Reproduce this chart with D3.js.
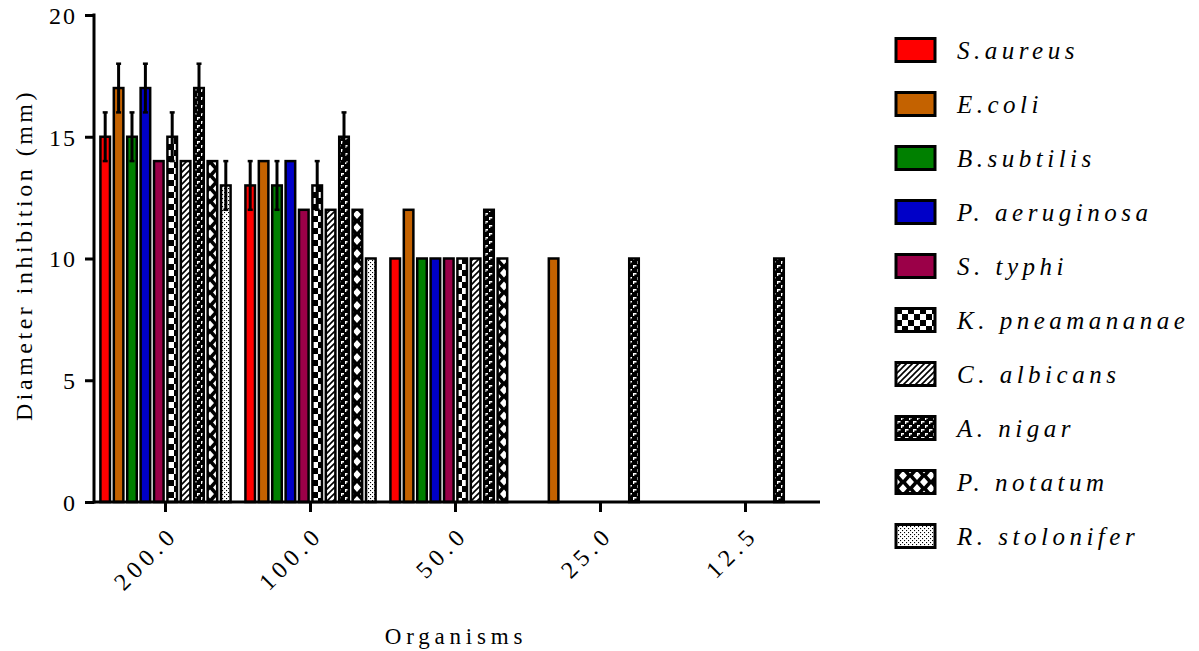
<!DOCTYPE html>
<html>
<head>
<meta charset="utf-8">
<script src="https://cdn.jsdelivr.net/npm/d3@7"></script>
<style>
  body { margin: 0; background: #fff; }
</style>
</head>
<body>
<svg id="chart"></svg>
<script>
// Data
const concentrations = ['200.0', '100.0', '50.0', '25.0', '12.5'];
const organisms = ['S.aureus', 'E.coli', 'B.subtilis', 'P. aeruginosa', 'S. typhi',
  'K. pneamananae', 'C. albicans', 'A. nigar', 'P. notatum', 'R. stolonifer'];

const sAureus     = [15, 13, 10, 0, 0];
const eColi       = [17, 14, 12, 10, 0];
const bSubtilis   = [15, 13, 10, 0, 0];
const pAeruginosa = [17, 14, 10, 0, 0];
const sTyphi      = [14, 12, 10, 0, 0];
const kPneamanae  = [15, 13, 10, 0, 0];
const cAlbicans   = [14, 12, 10, 0, 0];
const aNigar      = [17, 15, 12, 10, 10];
const pNotatum    = [14, 12, 10, 0, 0];
const rStolonifer = [13, 10, 0, 0, 0];

// error (SD) per organism
const sAureusErr     = [1, 1, 0, 0, 0];
const eColiErr       = [1, 0, 0, 0, 0];
const bSubtilisErr   = [1, 1, 0, 0, 0];
const pAeruginosaErr = [1, 0, 0, 0, 0];
const sTyphiErr      = [0, 0, 0, 0, 0];
const kPneamanaeErr  = [1, 1, 0, 0, 0];
const cAlbicansErr   = [0, 0, 0, 0, 0];
const aNigarErr      = [1, 1, 0, 0, 0];
const pNotatumErr    = [0, 0, 0, 0, 0];
const rStoloniferErr = [1, 0, 0, 0, 0];

const yTicks = [0, 5, 10, 15, 20];

const means = [sAureus, eColi, bSubtilis, pAeruginosa, sTyphi, kPneamanae, cAlbicans, aNigar, pNotatum, rStolonifer];
const errors = [sAureusErr, eColiErr, bSubtilisErr, pAeruginosaErr, sTyphiErr, kPneamanaeErr, cAlbicansErr, aNigarErr, pNotatumErr, rStoloniferErr];

// fills: five colours then five patterns
const fills = ['#ff0000', '#c46200', '#008000', '#0000c8', '#9b0048',
  'url(#pat-check)', 'url(#pat-hatch)', 'url(#pat-brick)', 'url(#pat-diamond)', 'url(#pat-dots)'];

const serif = '"Liberation Serif"';
const width = 1199, height = 651;
const svg = d3.select('#chart').attr('width', width).attr('height', height);

// ---- patterns ----
const defs = svg.append('defs');
function pattern(id, w, h, bg) {
  const p = defs.append('pattern').attr('id', id)
    .attr('patternUnits', 'userSpaceOnUse').attr('width', w).attr('height', h);
  p.append('rect').attr('width', w).attr('height', h).attr('fill', bg);
  return p;
}
let p = pattern('pat-check', 12, 12, '#fff');
p.append('rect').attr('width', 6).attr('height', 6).attr('fill', '#000');
p.append('rect').attr('x', 6).attr('y', 6).attr('width', 6).attr('height', 6).attr('fill', '#000');

p = pattern('pat-hatch', 6, 6, '#fff');
p.append('path').attr('d', 'M-1,7 L7,-1 M-4,4 L4,-4 M2,10 L10,2')
  .attr('stroke', '#000').attr('stroke-width', 1.6);

p = pattern('pat-brick', 8, 8, '#000');
p.append('rect').attr('x', 1).attr('y', 1).attr('width', 3.5).attr('height', 1.5).attr('fill', '#fff');
p.append('rect').attr('x', 1).attr('y', 1).attr('width', 1.3).attr('height', 3).attr('fill', '#fff');
p.append('rect').attr('x', 5).attr('y', 5).attr('width', 3.5).attr('height', 1.5).attr('fill', '#fff');
p.append('rect').attr('x', 5).attr('y', 5).attr('width', 1.3).attr('height', 3).attr('fill', '#fff');

p = pattern('pat-diamond', 14, 13, '#000');
p.append('path').attr('d', 'M7,2 L11,6.5 L7,11 L3,6.5 Z M0,-4.5 L4,0 L0,4.5 L-4,0 Z M14,-4.5 L18,0 L14,4.5 L10,0 Z M0,8.5 L4,13 L0,17.5 L-4,13 Z M14,8.5 L18,13 L14,17.5 L10,13 Z')
  .attr('fill', '#fff');

p = pattern('pat-dots', 4, 4, '#fff');
p.append('rect').attr('x', 0).attr('y', 0).attr('width', 1.1).attr('height', 1.1).attr('fill', '#000');
p.append('rect').attr('x', 2).attr('y', 2).attr('width', 1.1).attr('height', 1.1).attr('fill', '#000');

// ---- scales ----
const x0 = d3.scaleBand().domain(concentrations).range([93, 818]);
const x1 = d3.scaleBand().domain(d3.range(organisms.length))
  .range([0, x0.bandwidth()]).paddingInner(0.1).paddingOuter(0.46);
const y = d3.scaleLinear().domain([0, 20]).range([502, 15]);

const rows = [];
means.forEach((vals, s) => vals.forEach((v, c) => {
  rows.push({ s: s, c: concentrations[c], v: v, e: errors[s][c] });
}));
const shown = rows.filter(d => d.v > 0);

const bw = 2.5;
const g = svg.append('g');

g.selectAll('.bar')
  .data(shown)
  .enter()
  .append('rect')
  .attr('class', 'bar')
  .attr('x', d => x0(d.c) + x1(d.s) + bw / 2)
  .attr('y', d => y(d.v))
  .attr('width', x1.bandwidth() - bw)
  .attr('height', d => y(0) - y(d.v))
  .attr('fill', d => fills[d.s])
  .attr('stroke', '#000')
  .attr('stroke-width', bw);

// error bars
const errs = shown.filter(d => d.e > 0);
const cx = d => x0(d.c) + x1(d.s) + x1.bandwidth() / 2;
g.selectAll('.err')
  .data(errs)
  .enter()
  .append('line')
  .attr('class', 'err')
  .attr('x1', cx).attr('x2', cx)
  .attr('y1', d => y(d.v - d.e)).attr('y2', d => y(d.v + d.e))
  .attr('stroke', '#000').attr('stroke-width', 3);
['top', 'bot'].forEach(k => {
  g.selectAll('.cap-' + k)
    .data(errs)
    .enter()
    .append('line')
    .attr('x1', d => cx(d) - 2.5).attr('x2', d => cx(d) + 2.5)
    .attr('y1', d => y(k === 'top' ? d.v + d.e : d.v - d.e))
    .attr('y2', d => y(k === 'top' ? d.v + d.e : d.v - d.e))
    .attr('stroke', '#000').attr('stroke-width', 2.5);
});

// ---- axes ----
const yAxis = d3.axisLeft(y).tickValues(yTicks).tickSize(9).tickPadding(8).tickFormat(d3.format('d'));
const yAxisG = svg.append('g').attr('transform', 'translate(94,0)').call(yAxis);
yAxisG.select('.domain').attr('stroke-width', 3).attr('d', `M0,${y(20) - 1.5}V${y(0) + 1.5}`);
yAxisG.selectAll('.tick line').attr('stroke-width', 3);
yAxisG.selectAll('.tick text')
  .style('font-family', serif)
  .style('font-size', '24px').style('letter-spacing', '2px')
  .attr('dy', '0.35em');

const xAxis = d3.axisBottom(x0).tickSize(10).tickSizeOuter(0);
const xAxisG = svg.append('g').attr('transform', `translate(0,${y(0)})`).call(xAxis);
xAxisG.select('.domain').attr('stroke-width', 3).attr('d', 'M93,0H820');
xAxisG.selectAll('.tick line').attr('stroke-width', 3);
xAxisG.selectAll('.tick text')
  .style('font-family', serif)
  .style('font-size', '24px').style('letter-spacing', '5px')
  .attr('text-anchor', 'end')
  .attr('dy', null).attr('y', 0)
  .attr('transform', 'translate(14,34) rotate(-45)');

// axis titles
svg.append('text')
  .attr('transform', 'translate(32,255) rotate(-90)')
  .attr('text-anchor', 'middle')
  .style('font-family', serif)
  .style('font-size', '24px').style('letter-spacing', '3.5px')
  .text('Diameter inhibition (mm)');

svg.append('text')
  .attr('x', 456).attr('y', 644)
  .attr('text-anchor', 'middle')
  .style('font-family', serif)
  .style('font-size', '23px').style('letter-spacing', '4.8px')
  .text('Organisms');

// ---- legend ----
const legend = svg.append('g').selectAll('.legend')
  .data(organisms)
  .enter()
  .append('g')
  .attr('class', 'legend')
  .attr('transform', (d, i) => `translate(896,${50 + i * 54})`);

legend.append('rect')
  .attr('x', 0).attr('y', -11.5)
  .attr('width', 39).attr('height', 23)
  .attr('fill', (d, i) => fills[i])
  .attr('stroke', '#000').attr('stroke-width', 3);

legend.append('text')
  .attr('x', 61).attr('y', 9)
  .style('font-family', serif)
  .style('font-size', '25px').style('font-style', 'italic').style('letter-spacing', '4.5px')
  .text(d => d);
</script>
</body>
</html>
